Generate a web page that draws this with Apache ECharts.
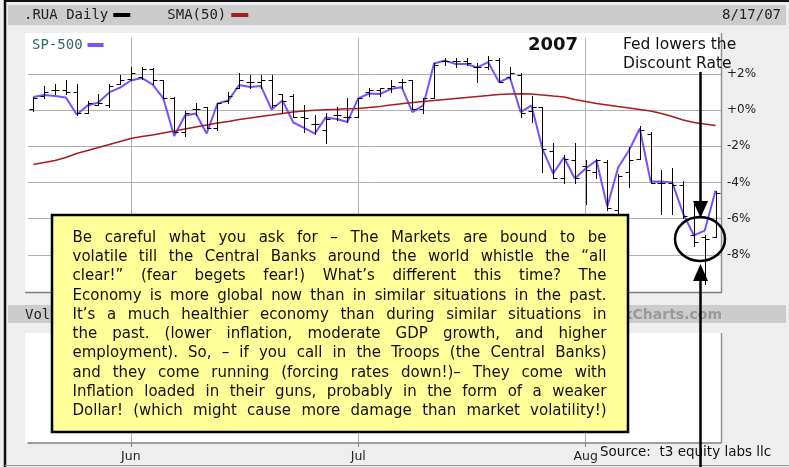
<!DOCTYPE html>
<html>
<head>
<meta charset="utf-8">
<script src="https://cdn.jsdelivr.net/npm/echarts@6/dist/echarts.min.js"></script>
<style>
  html, body { margin: 0; padding: 0; background: #eeeeee; }
  #chart { width: 789px; height: 467px; }
</style>
</head>
<body>
<div id="chart"></div>
<script>
// ---- trading days shown (May 18 - Aug 17, 2007)
var tradeDays = [
  '2007-05-18', '2007-05-21', '2007-05-22', '2007-05-23', '2007-05-24', '2007-05-25', '2007-05-29', '2007-05-30', '2007-05-31',
  '2007-06-01', '2007-06-04', '2007-06-05', '2007-06-06', '2007-06-07', '2007-06-08', '2007-06-11', '2007-06-12', '2007-06-13',
  '2007-06-14', '2007-06-15', '2007-06-18', '2007-06-19', '2007-06-20', '2007-06-21', '2007-06-22', '2007-06-25', '2007-06-26',
  '2007-06-27', '2007-06-28', '2007-06-29',
  '2007-07-02', '2007-07-03', '2007-07-05', '2007-07-06', '2007-07-09', '2007-07-10', '2007-07-11', '2007-07-12', '2007-07-13',
  '2007-07-16', '2007-07-17', '2007-07-18', '2007-07-19', '2007-07-20', '2007-07-23', '2007-07-24', '2007-07-25', '2007-07-26',
  '2007-07-27', '2007-07-30', '2007-07-31',
  '2007-08-01', '2007-08-02', '2007-08-03', '2007-08-06', '2007-08-07', '2007-08-08', '2007-08-09', '2007-08-10', '2007-08-13',
  '2007-08-14', '2007-08-15', '2007-08-16', '2007-08-17'
];

// ---- .RUA daily bars, % change
var ruaOpen = [0.03, 0.75, 1.08, 1.13, 0.97, -0.14, 0.30, 0.25, 1.46, 1.74,
  1.85, 2.24, 1.63, 0.69, -1.19, 0.08, 0.14, -1.02, 0.47, 1.24,
  1.52, 1.52, 1.63, 0.86, 0.80, -0.41, -0.80, -1.13, -0.30, -0.41,
  -0.36, 1.02, 1.08, 1.19, 1.52, 1.63, 0.08, 0.69, 2.68, 2.73,
  2.68, 2.35, 2.40, 2.79, 1.80, 1.96, -0.03, 0.14, -2.24, -3.73,
  -2.79, -3.07, -3.45, -2.90, -5.55, -3.40, -2.68, -1.30, -4.06, -4.01,
  -4.17, -6.90, -7.04, -7.04];
var ruaHigh = [0.72, 1.35, 1.41, 1.63, 1.41, 0.52, 0.91, 1.46, 1.96, 2.35,
  2.35, 2.32, 1.68, 0.72, -0.03, 0.41, 0.19, 0.41, 0.97, 2.02,
  1.91, 1.91, 1.91, 0.91, 0.86, 0.25, -0.30, -0.19, 0.14, 0.64,
  0.69, 1.19, 1.24, 1.63, 1.74, 1.68, 0.69, 2.57, 2.85, 2.90,
  2.90, 2.57, 3.01, 2.85, 2.35, 2.02, 0.80, 0.14, -1.80, -2.51,
  -1.80, -2.79, -2.68, -2.79, -3.51, -2.07, -0.86, -1.24, -3.34, -3.23,
  -3.90, -5.00, -6.93, -4.45];
var ruaLow = [-0.03, 0.69, 0.91, 0.86, -0.30, -0.19, 0.25, 0.14, 1.41, 1.63,
  1.74, 1.46, 0.69, -1.24, -1.41, -0.30, -1.02, -1.08, 0.41, 1.19,
  1.24, 1.24, 0.14, -0.14, -0.41, -1.24, -1.30, -1.80, -0.58, -0.69,
  -0.41, 0.80, 0.80, 0.97, 1.19, 0.08, -0.14, 0.69, 2.46, 2.40,
  2.46, 1.52, 2.29, 1.52, 1.74, -0.41, -0.69, -3.45, -3.78, -4.06,
  -4.06, -5.17, -3.78, -5.55, -6.21, -4.28, -2.73, -4.06, -5.72, -5.72,
  -5.94, -7.49, -9.60, -7.04];
var ruaClose = [0.69, 0.97, 1.13, 0.97, -0.19, 0.36, 0.41, 1.30, 1.63, 2.02,
  2.29, 1.63, 0.69, -1.19, -0.14, 0.05, -0.97, 0.36, 0.75, 1.63,
  1.55, 1.63, 0.25, 0.52, -0.36, -0.44, -0.80, -0.47, -0.25, -0.36,
  0.64, 1.08, 1.19, 1.30, 1.57, 0.08, 0.69, 2.51, 2.73, 2.68,
  2.62, 2.40, 2.79, 1.52, 2.02, -0.19, 0.19, -2.13, -3.73, -2.68,
  -3.78, -3.34, -2.79, -5.44, -3.62, -2.79, -1.13, -4.01, -4.01, -4.12,
  -5.83, -7.30, -7.10, -4.61];

// ---- SP-500 comparison line, % change
var spx500 = [0.72, 0.83, 0.77, 0.69, -0.25, 0.25, 0.41, 0.97, 1.24, 1.63,
  1.77, 1.41, 0.64, -1.44, -0.30, -0.19, -1.30, 0.36, 0.52, 1.38,
  1.27, 1.33, 0.03, 0.52, -0.69, -0.99, -1.30, -0.41, -0.50, -0.66,
  0.64, 0.91, 0.88, 1.16, 1.26, -0.12, 0.25, 2.57, 2.73, 2.54,
  2.54, 2.35, 2.64, 1.54, 1.81, -0.12, 0.25, -2.13, -3.51, -2.62,
  -3.78, -3.23, -2.79, -5.33, -3.18, -2.24, -1.02, -3.95, -3.95, -4.01,
  -5.72, -6.93, -6.66, -4.45];

// ---- SMA(50) of .RUA
var sma50 = [-3.01, -2.90, -2.79, -2.62, -2.40, -2.24, -2.07, -1.91, -1.74, -1.57,
  -1.46, -1.38, -1.27, -1.16, -1.05, -0.94, -0.83, -0.72, -0.64, -0.52,
  -0.44, -0.36, -0.28, -0.19, -0.11, -0.06, -0.02, 0.02, 0.04, 0.07,
  0.08, 0.14, 0.20, 0.27, 0.34, 0.41, 0.47, 0.52, 0.58, 0.64,
  0.69, 0.75, 0.80, 0.86, 0.88, 0.90, 0.88, 0.83, 0.77, 0.72,
  0.58, 0.47, 0.36, 0.28, 0.19, 0.11, 0.03, -0.06, -0.19, -0.36,
  -0.55, -0.69, -0.77, -0.86];

var monthNames = { '06': 'Jun', '07': 'Jul', '08': 'Aug' };

var noteLines = [
  'Be careful what you ask for – The Markets are bound to be',
  'volatile till the Central Banks around the world whistle the “all',
  'clear!”  (fear begets fear!) What’s different this time?  The',
  'Economy is more global now than in similar situations in the past.',
  'It’s a much healthier economy than during similar situations in',
  'the past. (lower inflation, moderate GDP growth, and higher',
  'employment).  So, – if you call in the Troops (the Central Banks)',
  'and they come running (forcing rates down!)– They come with',
  'Inflation loaded in their guns, probably in the form of a weaker',
  'Dollar!  (which might cause more damage than market volatility!)'
];

// first trading day of each month -> gridline + label
var monthStart = [];
for (var i = 1; i < tradeDays.length; i++) {
  if (tradeDays[i].slice(5, 7) !== tradeDays[i - 1].slice(5, 7)) monthStart.push(i);
}
function isMonthStart(idx) { return monthStart.indexOf(idx) >= 0; }

var ruaBars = tradeDays.map(function (d, i) {
  return [i, ruaOpen[i], ruaHigh[i], ruaLow[i], ruaClose[i]];
});

function drawRuaBar(params, api) {
  var day = api.value(0);
  var x = Math.round(api.coord([day, 0])[0]) + 0.5;
  function yOf(dim) { return Math.round(api.coord([day, api.value(dim)])[1]) + 0.5; }
  var yO = yOf(1), yH = yOf(2), yL = yOf(3), yC = yOf(4);
  var st = { stroke: '#000', lineWidth: 1 };
  return {
    type: 'group',
    children: [
      { type: 'line', shape: { x1: x, y1: yH - 0.5, x2: x, y2: yL + 0.5 }, style: st },
      { type: 'line', shape: { x1: x - 4, y1: yO, x2: x, y2: yO }, style: st },
      { type: 'line', shape: { x1: x, y1: yC, x2: x + 4, y2: yC }, style: st }
    ]
  };
}

// justified annotation text, word by word
function noteText(left, right, top, step) {
  var ctx = document.createElement('canvas').getContext('2d');
  var size = 14;
  ctx.font = size + 'px "DejaVu Sans"';
  var widest = 0;
  noteLines.forEach(function (l) { widest = Math.max(widest, ctx.measureText(l.replace(/\s+/g, ' ')).width); });
  size = Math.min(15, size * (right - left) / widest);
  var font = size.toFixed(2) + 'px "DejaVu Sans"';
  ctx.font = font;
  var kids = [];
  noteLines.forEach(function (line, n) {
    var words = line.split(/\s+/);
    var widths = words.map(function (w) { return ctx.measureText(w).width; });
    var total = widths.reduce(function (a, b) { return a + b; }, 0);
    var gap = (right - left - total) / (words.length - 1);
    var x = left;
    words.forEach(function (w, k) {
      kids.push({
        type: 'text', z: 101, x: x, y: top + n * step,
        style: { text: w, font: font, fill: '#111', verticalAlign: 'middle' }
      });
      x += widths[k] + gap;
    });
  });
  return kids;
}

var chart = echarts.init(document.getElementById('chart'), null, { renderer: 'canvas' });

var gridLine = { color: '#b0b0b0', width: 1 };

var option = {
  animation: false,
  backgroundColor: '#eeeeee',
  textStyle: { fontFamily: 'DejaVu Sans' },
  legend: [
    {
      data: ['.RUA Daily', 'SMA(50)'],
      left: 24, top: 8, padding: 0,
      align: 'right', icon: 'rect', itemWidth: 17, itemHeight: 4, itemGap: 37,
      selectedMode: false,
      textStyle: { fontFamily: 'DejaVu Sans Mono', fontSize: 14, color: '#222' }
    },
    {
      data: ['SP-500'],
      left: 32, top: 38, padding: 0,
      align: 'right', icon: 'rect', itemWidth: 16, itemHeight: 4,
      selectedMode: false,
      textStyle: { fontFamily: 'DejaVu Sans Mono', fontSize: 14, color: '#336666' }
    }
  ],
  grid: [
    { left: 28, right: 68, top: 37.6, bottom: 176, outerBoundsMode: 'none', containLabel: false },
    { left: 28, right: 68, top: 333, bottom: 24, outerBoundsMode: 'none', containLabel: false }
  ],
  xAxis: [
    {
      type: 'category', gridIndex: 0, data: tradeDays, boundaryGap: true,
      axisLine: { show: false }, axisTick: { show: false }, axisLabel: { show: false },
      splitLine: { show: true, interval: isMonthStart, alignWithLabel: true, lineStyle: gridLine }
    },
    {
      type: 'category', gridIndex: 1, data: tradeDays, boundaryGap: true,
      axisLine: { show: true, lineStyle: { color: '#808080', width: 1.5 } },
      axisTick: { show: true, interval: isMonthStart, alignWithLabel: true, length: 4, lineStyle: { color: '#808080' } },
      axisLabel: {
        interval: isMonthStart, margin: 7, fontSize: 12.5, color: '#222', fontFamily: 'DejaVu Sans',
        formatter: function (v) { return monthNames[v.slice(5, 7)] || ''; }
      },
      splitLine: { show: true, interval: isMonthStart, alignWithLabel: true, lineStyle: gridLine }
    }
  ],
  yAxis: [
    {
      type: 'value', gridIndex: 0, position: 'right',
      min: -10, max: 4, interval: 2,
      axisLine: { show: false }, axisTick: { show: false },
      axisLabel: {
        margin: 6, fontSize: 12, color: '#222', fontFamily: 'DejaVu Sans',
        formatter: function (v) {
          if (v <= -10 || v >= 4) return '';
          return (v >= 0 ? '+' : '') + v + '%';
        }
      },
      splitLine: { show: true, showMinLine: false, showMaxLine: false, lineStyle: gridLine }
    },
    {
      type: 'value', gridIndex: 1, min: 0, max: 1, show: false
    }
  ],
  series: [
    {
      name: 'SP-500', type: 'line', xAxisIndex: 0, yAxisIndex: 0,
      data: spx500, symbol: 'none', z: 2,
      lineStyle: { color: '#7b4fff', width: 2 }, itemStyle: { color: '#7b4fff' }
    },
    {
      name: 'SMA(50)', type: 'line', xAxisIndex: 0, yAxisIndex: 0,
      data: sma50, symbol: 'none', z: 2,
      lineStyle: { color: '#a81c1c', width: 1.5 }, itemStyle: { color: '#a81c1c' }
    },
    {
      name: '.RUA Daily', type: 'custom', xAxisIndex: 0, yAxisIndex: 0,
      data: ruaBars, renderItem: drawRuaBar, z: 3,
      encode: { x: 0, y: [1, 2, 3, 4] },
      itemStyle: { color: '#000' }
    }
  ],
  graphic: [
    // frame + panels
    { type: 'rect', z: -30, shape: { x: 8, y: 5, width: 778, height: 20 }, style: { fill: '#cccccc' } },
    { type: 'rect', z: -30, shape: { x: 25, y: 33, width: 697, height: 259 }, style: { fill: '#ffffff' } },
    { type: 'rect', z: -30, shape: { x: 8, y: 305, width: 778, height: 18 }, style: { fill: '#cccccc' } },
    { type: 'rect', z: -30, shape: { x: 25, y: 333, width: 697, height: 110 }, style: { fill: '#ffffff' } },
    { type: 'line', z: 5, shape: { x1: 721.5, y1: 33, x2: 721.5, y2: 292 }, style: { stroke: '#909090', lineWidth: 1.5 } },
    { type: 'line', z: 5, shape: { x1: 25, y1: 292.5, x2: 722, y2: 292.5 }, style: { stroke: '#808080', lineWidth: 1.5 } },
    { type: 'line', z: 5, shape: { x1: 721.5, y1: 333, x2: 721.5, y2: 443 }, style: { stroke: '#909090', lineWidth: 1.5 } },
    { type: 'line', z: 5, shape: { x1: 5, y1: 0, x2: 5, y2: 467 }, style: { stroke: '#111', lineWidth: 2.5 } },
    { type: 'line', z: 5, shape: { x1: 5, y1: 1, x2: 789, y2: 1 }, style: { stroke: '#111', lineWidth: 2 } },
    { type: 'line', z: 5, shape: { x1: 5, y1: 465.5, x2: 789, y2: 465.5 }, style: { stroke: '#999', lineWidth: 1 } },
    // header texts
    { type: 'text', z: 5, x: 781, y: 15, style: { text: '8/17/07', font: '14px "DejaVu Sans Mono"', fill: '#222', align: 'right', verticalAlign: 'middle' } },
    { type: 'text', z: 5, x: 25, y: 315, style: { text: 'Volume', font: '14px "DejaVu Sans Mono"', fill: '#222', verticalAlign: 'middle' } },
    { type: 'text', z: 5, x: 722, y: 315, style: { text: '© StockCharts.com', font: 'bold 14px "DejaVu Sans"', fill: '#9a9a9a', align: 'right', verticalAlign: 'middle' } },
    { type: 'text', z: 5, x: 578, y: 45, style: { text: '2007', font: 'bold 18px "DejaVu Sans"', fill: '#111', align: 'right', verticalAlign: 'middle' } },
    { type: 'text', z: 5, x: 623, y: 45, style: { text: 'Fed lowers the', font: '15.5px "DejaVu Sans"', fill: '#111', verticalAlign: 'middle' } },
    { type: 'text', z: 5, x: 623, y: 64, style: { text: 'Discount Rate', font: '15.5px "DejaVu Sans"', fill: '#111', verticalAlign: 'middle' } },
    { type: 'text', z: 5, x: 600, y: 452, style: { text: 'Source:  t3 equity labs llc', font: '13.5px "DejaVu Sans"', fill: '#111', verticalAlign: 'middle' } },
    // arrows + circle
    { type: 'line', z: 100, shape: { x1: 700.5, y1: 72, x2: 700.5, y2: 204 }, style: { stroke: '#000', lineWidth: 2.5 } },
    { type: 'polygon', z: 100, shape: { points: [[693, 201], [708, 201], [700.5, 218]] }, style: { fill: '#000' } },
    { type: 'line', z: 100, shape: { x1: 700.5, y1: 278, x2: 700.5, y2: 467 }, style: { stroke: '#000', lineWidth: 2.5 } },
    { type: 'polygon', z: 100, shape: { points: [[693, 281], [708, 281], [700.5, 264]] }, style: { fill: '#000' } },
    { type: 'ellipse', z: 100, shape: { cx: 700, cy: 239, rx: 25, ry: 22 }, style: { fill: 'none', stroke: '#000', lineWidth: 2.5 } },
    // note box
    { type: 'rect', z: 100, shape: { x: 52, y: 215, width: 576, height: 217 }, style: { fill: '#ffff99', stroke: '#000', lineWidth: 2.5 } }
  ].concat(noteText(72.5, 606.5, 238, 19.25))
};

chart.setOption(option);
</script>
</body>
</html>
